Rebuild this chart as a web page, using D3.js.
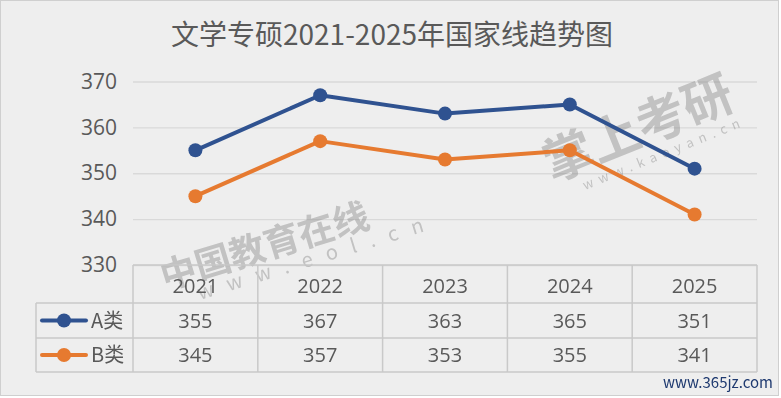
<!DOCTYPE html>
<html>
<head>
<meta charset="utf-8">
<script src="https://cdn.jsdelivr.net/npm/d3@7"></script>
<style>
  body { margin: 0; background: #ffffff; }
  text { font-family: "Noto Sans CJK SC", "Noto Sans", sans-serif; }
</style>
</head>
<body>
<svg id="chart" width="781" height="398"></svg>
<script>
// NOTE: chart data
const title = '文学专硕2021-2025年国家线趋势图';
const years = ['2021', '2022', '2023', '2024', '2025'];
const seriesNames = ['A类', 'B类'];
const scoresA = [355, 367, 363, 365, 351];
const scoresB = [345, 357, 353, 355, 341];
const yTicks = [330, 340, 350, 360, 370];

// NOTE: layout settings
const width = 781;
const height = 398;
const plot = { left: 133, right: 757, top: 81.5, bottom: 265 };
const rowH = [38, 35, 34];
const legendLeft = 36;
const colors = ['#2f5290', '#e67a30'];
const textColor = '#595959';
const gridColor = '#d9d9d9';
const tableColor = '#c9c9c9';

const series = [
  { name: seriesNames[0], values: scoresA, color: colors[0] },
  { name: seriesNames[1], values: scoresB, color: colors[1] },
];

const svg = d3.select('#chart');

svg.append('rect')
  .attr('x', 0.5).attr('y', 0.5)
  .attr('width', width - 3).attr('height', height - 3)
  .attr('fill', '#eeeeee')
  .attr('stroke', '#cfcfcf');

const x = d3.scaleBand().domain(years).range([plot.left, plot.right]);
const y = d3.scaleLinear().domain([330, 370]).range([plot.bottom, plot.top]);

// title
svg.append('text')
  .attr('x', 392).attr('y', 45)
  .attr('text-anchor', 'middle')
  .attr('font-size', 28)
  .attr('fill', textColor)
  .text(title);

// y axis + gridlines
const yAxis = svg.append('g')
  .attr('transform', `translate(${plot.left},0)`)
  .call(d3.axisLeft(y).tickValues(yTicks).tickSize(-(plot.right - plot.left)).tickPadding(16));
yAxis.select('.domain').remove();
yAxis.selectAll('.tick line').attr('stroke', gridColor).attr('stroke-width', 1.3);
yAxis.selectAll('.tick text')
  .attr('font-size', 21)
  .attr('fill', textColor)
  .style('font-family', '"Open Sans", "Noto Sans", sans-serif');

// watermarks
const wm = svg.append('g').attr('fill', '#8c8c8c').attr('opacity', 0.45).attr('font-weight', 'bold');
wm.append('text')
  .attr('transform', 'translate(165,290) rotate(-17)')
  .attr('font-size', 36)
  .text('中国教育在线');
wm.append('text')
  .attr('transform', 'translate(200,300) rotate(-17)')
  .attr('font-size', 20)
  .attr('font-weight', 'normal')
  .attr('letter-spacing', 14)
  .text('www.eol.cn');
wm.append('text')
  .attr('transform', 'translate(552,182) rotate(-22)')
  .attr('font-size', 50)
  .text('掌上考研');
wm.append('text')
  .attr('transform', 'translate(585,190) rotate(-22)')
  .attr('font-size', 13)
  .attr('font-weight', 'normal')
  .attr('letter-spacing', 6)
  .text('www.kaoyan.cn');

// lines + markers
const line = d3.line()
  .x((d, i) => x(years[i]) + x.bandwidth() / 2)
  .y((d) => y(d));

series.forEach((s) => {
  svg.append('path')
    .datum(s.values)
    .attr('d', line)
    .attr('fill', 'none')
    .attr('stroke', s.color)
    .attr('stroke-width', 4)
    .attr('stroke-linejoin', 'round');
  svg.selectAll(null)
    .data(s.values)
    .join('circle')
    .attr('cx', (d, i) => x(years[i]) + x.bandwidth() / 2)
    .attr('cy', (d) => y(d))
    .attr('r', 7)
    .attr('fill', s.color);
});

// data table
const rowY = [plot.bottom, plot.bottom + rowH[0], plot.bottom + rowH[0] + rowH[1], plot.bottom + rowH[0] + rowH[1] + rowH[2]];
const table = svg.append('g').attr('stroke', tableColor).attr('stroke-width', 1.5).attr('fill', 'none');
table.append('line').attr('x1', plot.left).attr('x2', plot.right).attr('y1', rowY[0]).attr('y2', rowY[0]);
[1, 2, 3].forEach((r) => {
  table.append('line').attr('x1', legendLeft).attr('x2', plot.right).attr('y1', rowY[r]).attr('y2', rowY[r]);
});
years.forEach((yr) => {
  table.append('line').attr('x1', x(yr)).attr('x2', x(yr)).attr('y1', rowY[0]).attr('y2', rowY[3]);
});
table.append('line').attr('x1', plot.right).attr('x2', plot.right).attr('y1', rowY[0]).attr('y2', rowY[3]);
table.append('line').attr('x1', legendLeft).attr('x2', legendLeft).attr('y1', rowY[1]).attr('y2', rowY[3]);

svg.append('g')
  .selectAll('text')
  .data(years)
  .join('text')
  .attr('x', (d) => x(d) + x.bandwidth() / 2)
  .attr('y', rowY[0] + 28)
  .attr('text-anchor', 'middle')
  .attr('font-size', 20)
  .attr('fill', textColor)
  .style('font-family', '"Open Sans", "Noto Sans", sans-serif')
  .text((d) => d);

series.forEach((s, k) => {
  const cy = (rowY[k + 1] + rowY[k + 2]) / 2;
  svg.append('g')
    .selectAll('text')
    .data(s.values)
    .join('text')
    .attr('x', (d, i) => x(years[i]) + x.bandwidth() / 2)
    .attr('y', cy + 7)
    .attr('text-anchor', 'middle')
    .attr('font-size', 20)
    .attr('fill', textColor)
    .style('font-family', '"Open Sans", "Noto Sans", sans-serif')
    .text((d) => d);
  // legend key
  svg.append('line')
    .attr('x1', 42).attr('x2', 86).attr('y1', cy).attr('y2', cy)
    .attr('stroke', s.color).attr('stroke-width', 4).attr('stroke-linecap', 'round');
  svg.append('circle').attr('cx', 64).attr('cy', cy).attr('r', 7).attr('fill', s.color);
  svg.append('text')
    .attr('x', 91).attr('y', cy + 7)
    .attr('font-size', 20)
    .attr('fill', textColor)
    .text(s.name);
});

// source mark
svg.append('text')
  .attr('x', 773).attr('y', 388)
  .attr('text-anchor', 'end')
  .attr('font-size', 15)
  .attr('font-family', '"DejaVu Serif", serif')
  .attr('fill', '#1f3a70')
  .text('www.365jz.com');
</script>
</body>
</html>
